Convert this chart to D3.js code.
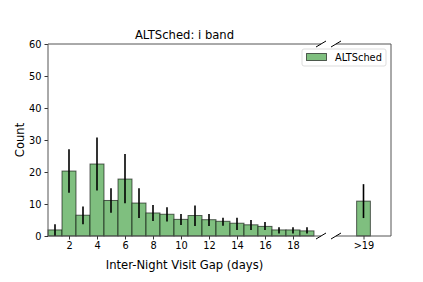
<!DOCTYPE html>
<html>
<head>
<meta charset="utf-8">
<script src="https://cdn.jsdelivr.net/npm/d3@7"></script>
<style>
  body { margin: 0; background: #fff; }
  svg text { font-family: "DejaVu Sans", sans-serif; fill: #000; }
</style>
</head>
<body>
<div id="chart"></div>
<script>
const gaps = [1, 2, 3, 4, 5, 6, 7, 8, 9, 10, 11, 12, 13, 14, 15, 16, 17, 18, 19]
const counts = [1.9, 20.3, 6.5, 22.5, 11.1, 17.8, 10.3, 7.2, 6.8, 5.2, 6.4, 5.1, 4.6, 4.0, 3.5, 3.0, 1.9, 1.9, 1.6]
const errLow = [0, 13.5, 3.7, 14.2, 7.3, 10.2, 5.6, 4.7, 4.5, 3.4, 3.1, 3.1, 3.2, 1.9, 1.9, 1.9, 0.8, 0.8, 0.8]
const errHigh = [3.7, 27.1, 9.2, 30.8, 14.9, 25.6, 14.9, 9.7, 9.0, 6.9, 9.5, 6.9, 5.7, 5.7, 5.0, 4.4, 2.7, 2.7, 2.7]
const tailLabel = ">19"
const tailCount = 10.9
const tailErr = [5.6, 16.2]
const xTicks = [2, 4, 6, 8, 10, 12, 14, 16, 18]
const yTicks = [0, 10, 20, 30, 40, 50, 60]

const width = 423, height = 282
const plotTop = 44, plotBottom = 236
const leftX0 = 48, leftX1 = 321, rightX0 = 336, rightX1 = 391

const svg = d3.select("#chart").append("svg")
    .attr("width", width).attr("height", height)

const y = d3.scaleLinear().domain([0, 60]).range([plotBottom, plotTop])
const xL = d3.scaleLinear().domain([0.5, 20]).range([leftX0, leftX1])
const xR = d3.scaleLinear().domain([18, 22]).range([rightX0, rightX1])

const barFill = "#7fbf7f"
const barEdge = "rgba(0,0,0,0.6)"

// bars left
const data = gaps.map((g, i) => ({ g: g, c: counts[i], lo: errLow[i], hi: errHigh[i] }))

svg.append("g").selectAll("rect")
    .data(data)
    .join("rect")
    .attr("x", d => xL(d.g - 0.5))
    .attr("y", d => y(d.c))
    .attr("width", d => xL(d.g + 0.5) - xL(d.g - 0.5))
    .attr("height", d => y(0) - y(d.c))
    .attr("fill", barFill)
    .attr("stroke", barEdge)
    .attr("stroke-width", 1)

svg.append("g").selectAll("line")
    .data(data)
    .join("line")
    .attr("x1", d => xL(d.g)).attr("x2", d => xL(d.g))
    .attr("y1", d => y(d.lo)).attr("y2", d => y(d.hi))
    .attr("stroke", "#000").attr("stroke-width", 1.6)

// tail bar
svg.append("rect")
    .attr("x", xR(19.5)).attr("y", y(tailCount))
    .attr("width", xR(20.5) - xR(19.5))
    .attr("height", y(0) - y(tailCount))
    .attr("fill", barFill).attr("stroke", barEdge)
svg.append("line")
    .attr("x1", xR(20)).attr("x2", xR(20))
    .attr("y1", y(tailErr[0])).attr("y2", y(tailErr[1]))
    .attr("stroke", "#000").attr("stroke-width", 1.6)

// axes
const yAxis = svg.append("g")
    .attr("transform", `translate(${leftX0},0)`)
    .call(d3.axisLeft(y).tickValues(yTicks).tickSize(3.5).tickPadding(3))
const xAxisL = svg.append("g")
    .attr("transform", `translate(0,${plotBottom})`)
    .call(d3.axisBottom(xL).tickValues(xTicks).tickSize(3.5).tickPadding(3))
const xAxisR = svg.append("g")
    .attr("transform", `translate(0,${plotBottom})`)
    .call(d3.axisBottom(xR).tickValues([20]).tickFormat(() => tailLabel).tickSize(3.5).tickPadding(3))

for (const ax of [yAxis, xAxisL, xAxisR]) {
    ax.select(".domain").remove()
    ax.selectAll("text").style("font-size", "9.8px").attr("fill", "#000")
    ax.selectAll(".tick line").attr("stroke", "#000").attr("stroke-width", 0.8)
}

// spines
const spine = "#555"
const spines = [
    [leftX0, plotTop, leftX0, plotBottom],
    [leftX0, plotTop, leftX1, plotTop],
    [leftX0, plotBottom, leftX1, plotBottom],
    [rightX0, plotTop, rightX1, plotTop],
    [rightX0, plotBottom, rightX1, plotBottom],
    [rightX1, plotTop, rightX1, plotBottom]
]
svg.append("g").selectAll("line")
    .data(spines)
    .join("line")
    .attr("x1", d => d[0]).attr("y1", d => d[1])
    .attr("x2", d => d[2]).attr("y2", d => d[3])
    .attr("stroke", spine).attr("stroke-width", 1)

// break marks
const breaks = [[leftX1, plotTop], [leftX1, plotBottom], [rightX0, plotTop], [rightX0, plotBottom]]
svg.append("g").selectAll("line")
    .data(breaks)
    .join("line")
    .attr("x1", d => d[0] - 5).attr("y1", d => d[1] + 3)
    .attr("x2", d => d[0] + 5).attr("y2", d => d[1] - 3)
    .attr("stroke", "#000").attr("stroke-width", 1)

// title & labels
svg.append("text")
    .attr("x", (leftX0 + leftX1) / 2).attr("y", 39)
    .attr("text-anchor", "middle")
    .style("font-size", "11.6px")
    .text("ALTSched: i band")

svg.append("text")
    .attr("x", (leftX0 + leftX1) / 2).attr("y", 269)
    .attr("text-anchor", "middle")
    .style("font-size", "11.6px")
    .text("Inter-Night Visit Gap (days)")

svg.append("text")
    .attr("transform", `translate(24,${(plotTop + plotBottom) / 2}) rotate(-90)`)
    .attr("text-anchor", "middle")
    .style("font-size", "11.6px")
    .text("Count")

// legend
const lg = svg.append("g").attr("transform", "translate(302,49)")
lg.append("rect")
    .attr("width", 84).attr("height", 17).attr("rx", 2)
    .attr("fill", "rgba(255,255,255,0.8)").attr("stroke", "#ddd")
lg.append("rect")
    .attr("x", 4.5).attr("y", 4.5).attr("width", 20).attr("height", 7)
    .attr("fill", barFill).attr("stroke", barEdge)
lg.append("text")
    .attr("x", 33).attr("y", 12)
    .style("font-size", "9.8px")
    .text("ALTSched")
</script>
</body>
</html>
